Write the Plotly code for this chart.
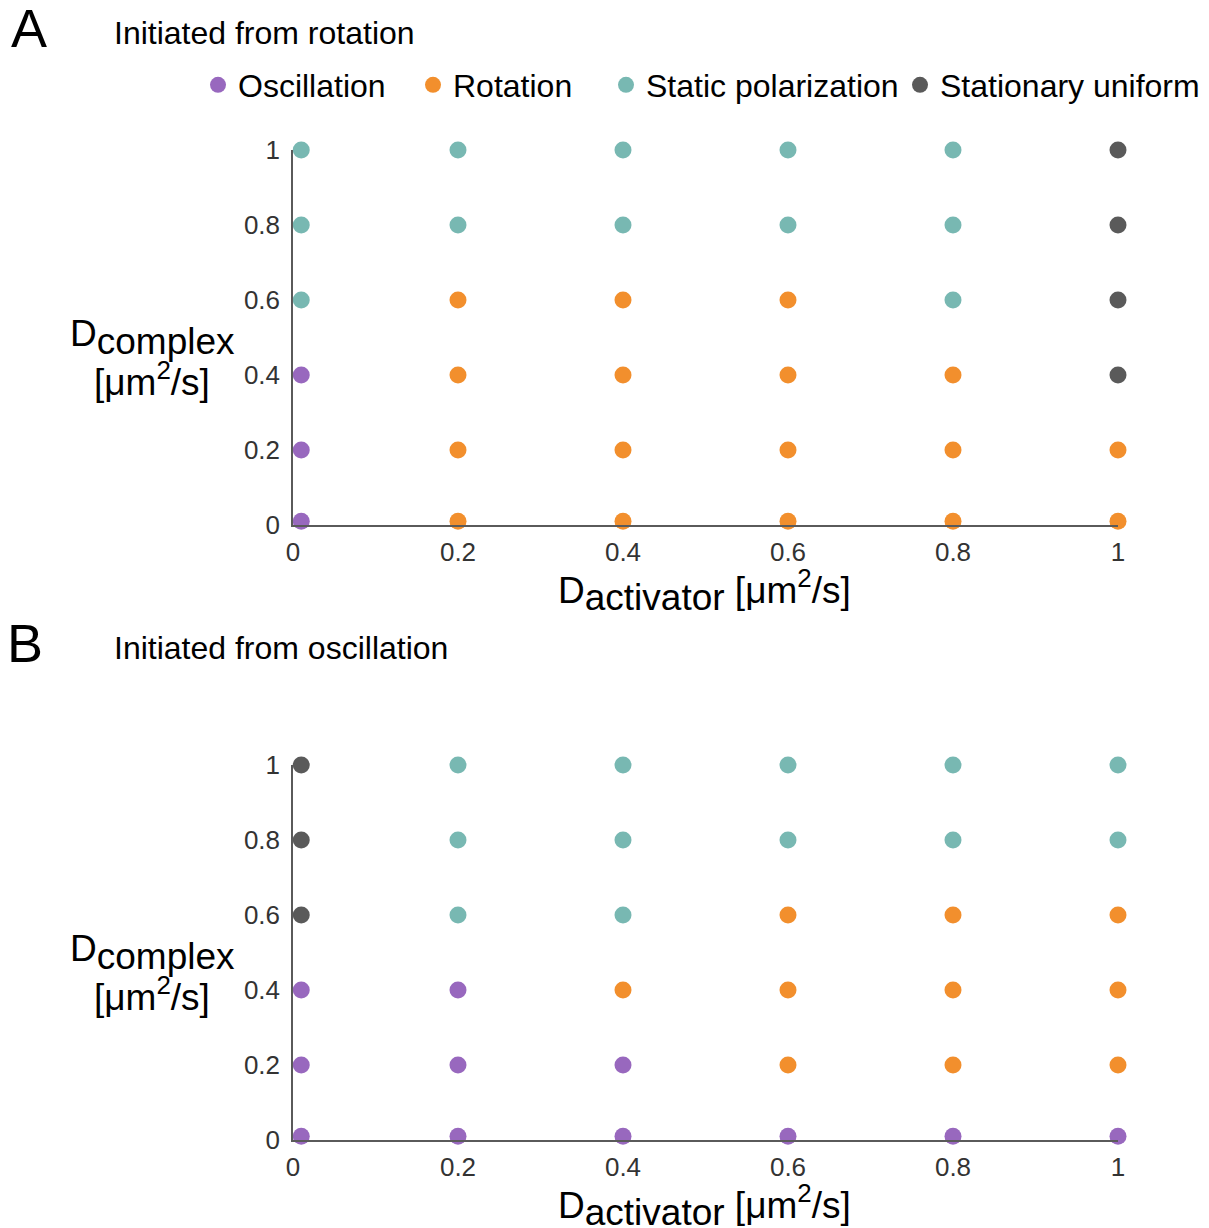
import plotly.graph_objects as go

# Diffusion coefficients sampled in the parameter sweep [um^2/s]
d_activator = [0.01, 0.2, 0.4, 0.6, 0.8, 1.0]
d_complex = [1.0, 0.8, 0.6, 0.4, 0.2, 0.01]   # rows listed top to bottom

# Axis ticks
tick_vals = [0, 0.2, 0.4, 0.6, 0.8, 1]
tick_text = ["0", "0.2", "0.4", "0.6", "0.8", "1"]

# Final state codes: O = oscillation, R = rotation, S = static polarization, U = stationary uniform
states_from_rotation = [
    ["S", "S", "S", "S", "S", "U"],
    ["S", "S", "S", "S", "S", "U"],
    ["S", "R", "R", "R", "S", "U"],
    ["O", "R", "R", "R", "R", "U"],
    ["O", "R", "R", "R", "R", "R"],
    ["O", "R", "R", "R", "R", "R"],
]
states_from_oscillation = [
    ["U", "S", "S", "S", "S", "S"],
    ["U", "S", "S", "S", "S", "S"],
    ["U", "S", "S", "R", "R", "R"],
    ["O", "O", "R", "R", "R", "R"],
    ["O", "O", "O", "R", "R", "R"],
    ["O", "O", "O", "O", "O", "O"],
]

state_codes = ["O", "R", "S", "U"]
state_names = ["Oscillation", "Rotation", "Static polarization", "Stationary uniform"]
state_colors = ["#9868BE", "#F28F2D", "#78B8B2", "#5A5A5A"]

W, H = 1209, 1228
FONT = "Liberation Sans, Arial, sans-serif"


def px_x(p):
    return p / W


def px_y(p):
    return 1 - p / H


fig = go.Figure()

legend_keys = ["legend", "legend2", "legend3", "legend4"]
legend_centers = [217, 432, 625, 919]

for panel, (grid, xa, ya) in enumerate(
    [(states_from_rotation, "x", "y"), (states_from_oscillation, "x2", "y2")]
):
    for k, code in enumerate(state_codes):
        xs, ys = [], []
        for r, row in enumerate(grid):
            for c, s in enumerate(row):
                if s == code:
                    xs.append(d_activator[c])
                    ys.append(d_complex[r])
        fig.add_trace(
            go.Scatter(
                x=xs if xs else [None],
                y=ys if ys else [None],
                mode="markers",
                name=state_names[k],
                marker=dict(size=17, color=state_colors[k]),
                xaxis=xa,
                yaxis=ya,
                cliponaxis=False,
                showlegend=(panel == 0),
                legend=legend_keys[k],
                hoverinfo="skip",
            )
        )

axis_common = dict(
    range=[0, 1],
    tickvals=tick_vals,
    ticktext=tick_text,
    showgrid=False,
    zeroline=False,
    showline=True,
    linecolor="#5a5a5a",
    linewidth=1.5,
    ticks="",
    tickfont=dict(family=FONT, size=26, color="#333333"),
    fixedrange=True,
)

x_dom = [px_x(293), px_x(1118)]
fig.update_layout(
    width=W,
    height=H,
    margin=dict(l=0, r=0, t=0, b=0, autoexpand=False),
    paper_bgcolor="white",
    plot_bgcolor="white",
    font=dict(family=FONT, color="black"),
    xaxis=dict(domain=x_dom, anchor="y", ticklabelstandoff=3, **axis_common),
    yaxis=dict(domain=[px_y(525), px_y(150)], anchor="x", ticklabelstandoff=6, **axis_common),
    xaxis2=dict(domain=x_dom, anchor="y2", ticklabelstandoff=3, **axis_common),
    yaxis2=dict(domain=[px_y(1140), px_y(765)], anchor="x2", ticklabelstandoff=6, **axis_common),
)

legend_layout = {}
for key, cx in zip(legend_keys, legend_centers):
    legend_layout[key] = dict(
        x=px_x(cx - 19),
        y=px_y(85),
        xanchor="left",
        yanchor="middle",
        orientation="h",
        bgcolor="rgba(0,0,0,0)",
        borderwidth=0,
        font=dict(family=FONT, size=32, color="black"),
        itemclick=False,
        itemdoubleclick=False,
    )
fig.update_layout(**legend_layout)

annotations = []


def add_text(text, x, y, size, xanchor="left", yanchor="middle", color="black"):
    annotations.append(
        dict(
            text=text,
            x=px_x(x),
            y=px_y(y),
            xref="paper",
            yref="paper",
            xanchor=xanchor,
            yanchor=yanchor,
            showarrow=False,
            font=dict(family=FONT, size=size, color=color),
        )
    )


sub = lambda s, size: f"<sub><span style='font-size:{size}px'>{s}</span></sub>"
x_title = "D" + sub("activator", 37) + " [μm<sup>2</sup>/s]"
y_title_1 = "D" + sub("complex", 37)
y_title_2 = "[μm<sup>2</sup>/s]"

for dy, letter, subtitle in [(0, "A", "Initiated from rotation"), (615, "B", "Initiated from oscillation")]:
    add_text(letter, 9 if letter == "A" else 5, 28 + dy, 54)
    add_text(subtitle, 112, 33 + dy, 32)
    add_text(x_title, 704, 591 + dy, 37, xanchor="center")
    add_text(y_title_1, 152, 337 + dy, 37, xanchor="center")
    add_text(y_title_2, 152, 379 + dy, 37, xanchor="center")

fig.update_layout(annotations=annotations)

fig.write_html("out.html")
